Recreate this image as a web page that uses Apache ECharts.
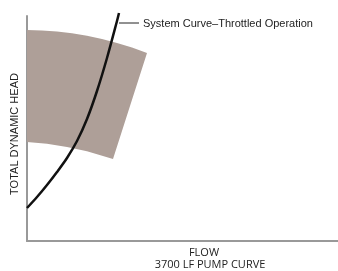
<!DOCTYPE html>
<html>
<head>
<meta charset="utf-8">
<script src="https://cdn.jsdelivr.net/npm/echarts@6/dist/echarts.min.js"></script>
<style>
  html, body { margin: 0; padding: 0; background: #fff; }
  #chart { width: 338px; height: 271px; }
</style>
</head>
<body>
<div id="chart"></div>
<script>
// values, in relative flow / head units (no ticks shown)
const bandTop = [[0, 211], [15, 210.6], [30, 209.6], [45, 207.8], [60, 205.2], [75, 202], [90, 198], [105, 193.4], [120, 188]];
const bandBottom = [[86, 82], [60, 89.7], [40, 94], [20, 97.2], [0, 99]];
const systemCurve = [[0, 33], [10, 44], [20, 56], [30, 69], [40, 83], [50, 100], [60, 122], [70, 150], [80, 183], [90, 220], [92, 228]];

const AXIS_LINE = { lineStyle: { color: '#999', width: 2 } };
const LABEL_FONT = 'Liberation Sans, Arial, sans-serif';

const c = echarts.init(document.getElementById('chart'), null, { renderer: 'canvas' });

c.setOption({
  animation: false,
  grid: { left: 27, right: 0, top: 16, bottom: 30 },
  xAxis: {
    type: 'value', min: 0, max: 311,
    axisLine: { ...AXIS_LINE, onZero: false },
    axisTick: { show: false }, axisLabel: { show: false }, splitLine: { show: false },
  },
  yAxis: {
    type: 'value', min: 0, max: 225,
    axisLine: { show: true, ...AXIS_LINE, onZero: false },
    axisTick: { show: false }, axisLabel: { show: false }, splitLine: { show: false },
  },
  series: [
    {
      // pump operating band: top edge then bottom edge, straight right side
      type: 'custom',
      renderItem: (params, api) => ({
        type: 'polygon',
        shape: { points: bandTop.concat(bandBottom).map(p => api.coord(p)) },
        style: { fill: '#ae9f98' },
      }),
      data: [0],
      z: 1,
    },
    {
      type: 'line',
      data: systemCurve,
      smooth: 0.3,
      showSymbol: false,
      clip: false,
      lineStyle: { color: '#111', width: 2.5 },
      z: 3,
    },
  ],
  graphic: [
    { type: 'line', shape: { x1: 119, y1: 23, x2: 139, y2: 23 }, style: { stroke: '#222', lineWidth: 1 } },
    {
      type: 'text', x: 143, y: 24,
      style: { text: 'System Curve\u2013Throttled Operation', font: '11px ' + LABEL_FONT, fill: '#222', verticalAlign: 'middle' },
    },
    {
      type: 'text', x: 15, y: 134, rotation: Math.PI / 2,
      style: { text: 'TOTAL DYNAMIC HEAD', font: '11px ' + LABEL_FONT, fill: '#222', align: 'center', verticalAlign: 'middle' },
    },
    {
      type: 'text', x: 204, y: 253,
      style: { text: 'FLOW', font: '11px Open Sans, sans-serif', fill: '#222', align: 'center', verticalAlign: 'middle' },
    },
    {
      type: 'text', x: 210, y: 265,
      style: { text: '3700 LF PUMP CURVE', font: '11px Open Sans, sans-serif', fill: '#222', align: 'center', verticalAlign: 'middle' },
    },
  ],
});
</script>
</body>
</html>
